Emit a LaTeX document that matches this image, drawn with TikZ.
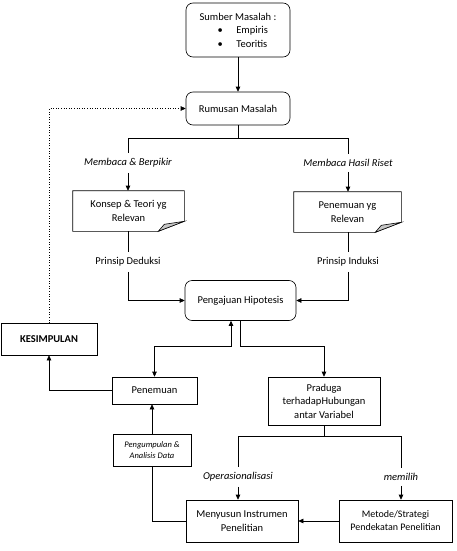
\documentclass[tikz,border=0pt]{standalone}
\usepackage{fontspec}
\setmainfont{Carlito}
\usetikzlibrary{arrows.meta}

\begin{document}
\begin{tikzpicture}[x=1pt, y=-1pt, line width=0.6pt,
	>={Triangle[length=5pt,width=4.5pt]},
	box/.style={draw, rectangle, align=center, inner sep=2pt,
	            font=\fontsize{10.5}{13.5}\selectfont},
	rbox/.style={box, rounded corners=7pt},
	docbox/.style={box, draw=none, append after command={\pgfextra{
		\draw (\tikzlastnode.north west) -- (\tikzlastnode.north east)
		   -- ([yshift=10pt]\tikzlastnode.south east)
		   -- ([xshift=-26pt]\tikzlastnode.south east)
		   -- (\tikzlastnode.south west) -- cycle;
		\draw[fill=gray!45] ([xshift=-26pt]\tikzlastnode.south east)
		   -- ([xshift=-20pt,yshift=7pt]\tikzlastnode.south east)
		   -- ([yshift=10pt]\tikzlastnode.south east) -- cycle;}}},
	lbl/.style={inner sep=5pt, font=\fontsize{10.5}{13.5}\selectfont}]

	\useasboundingbox (0,0) rectangle (457,551);

	% kotak-kotak
	\node[rbox, minimum width=104pt, minimum height=54pt, align=left] (sumber) at (238,30)
		{Sumber Masalah :\\\hspace*{18pt}\textbullet\hspace{13.5pt}Empiris\\\hspace*{18pt}\textbullet\hspace{13.5pt}Teoritis};
	\node[rbox, minimum width=104pt, minimum height=33pt] (rumusan) at (238,108.5) {Rumusan Masalah};
	\node[docbox, minimum width=111pt, minimum height=40pt] (konsep) at (128.5,211) {Konsep \& Teori yg\\Relevan};
	\node[docbox, minimum width=107pt, minimum height=40pt] (relevan) at (347.5,212) {Penemuan yg\\Relevan};
	\node[rbox, minimum width=111pt, minimum height=40pt] (pengajuan) at (240.5,300.5) {Pengajuan Hipotesis};
	\node[box, minimum width=96pt, minimum height=32pt, font=\fontsize{10.5}{13.5}\selectfont\bfseries] (kesimpulan) at (49,339) {KESIMPULAN};
	\node[box, minimum width=85pt, minimum height=27pt] (penemuan) at (154.5,390.5) {Penemuan};
	\node[box, minimum width=112pt, minimum height=48pt] (praduga) at (324,401) {Praduga\\terhadapHubungan\\antar Variabel};
	\node[box, minimum width=78pt, minimum height=32pt, font=\fontsize{8.5}{11}\selectfont\itshape] (kumpul) at (152,450) {Pengumpulan \&\\Analisis Data};
	\node[box, minimum width=112pt, minimum height=42pt] (menyusun) at (242,521) {Menyusun Instrumen\\Penelitian};
	\node[box, minimum width=113pt, minimum height=42pt, font=\fontsize{10}{13}\selectfont] (metode) at (395.5,521) {Metode/Strategi\\Pendekatan Penelitian};

	% label pada garis
	\node[lbl, font=\fontsize{10.5}{13.5}\selectfont\itshape] (baca1) at (128,163) {Membaca \& Berpikir};
	\node[lbl, font=\fontsize{10.5}{13.5}\selectfont\itshape] (baca2) at (348,163) {Membaca Hasil Riset};
	\node[lbl] (deduksi) at (128,262) {Prinsip Deduksi};
	\node[lbl] (induksi) at (348,262) {Prinsip Induksi};
	\node[lbl, font=\fontsize{10.5}{13.5}\selectfont\itshape] (operasi) at (238,477) {Operasionalisasi};
	\node[lbl, font=\fontsize{10.5}{13.5}\selectfont\itshape] (pilih) at (401,477) {memilih};

	% garis penghubung
	\draw[->] (sumber) -- (rumusan);
	\draw (rumusan.south) -- ++(0,12.5) -| (baca1.north);
	\draw (rumusan.south) -- ++(0,12.5) -| (baca2.north);
	\draw[->] (baca1.south) -- (baca1.south |- konsep.north);
	\draw[->] (baca2.south) -- (baca2.south |- relevan.north);
	\draw (konsep.south -| deduksi) -- (deduksi.north);
	\draw (relevan.south -| induksi) -- (induksi.north);
	\draw[->] (deduksi.south) |- (pengajuan.west);
	\draw[->] (induksi.south) |- (pengajuan.east);
	\draw[<->] ([xshift=-9.5pt]pengajuan.south) -- ++(0,25) -| (penemuan.north);
	\draw[->] (pengajuan.south) -- ++(0,25) -| (praduga.north);
	\draw[->] (penemuan.west) -| (kesimpulan.south);
	\draw[->, dotted] (kesimpulan.north) |- (rumusan.west);
	\draw[->] (kumpul.north) -- (kumpul.north |- penemuan.south);
	\draw (menyusun.west) -| (kumpul.south);
	\draw (praduga.south) -- ++(0,11) -| (operasi.north);
	\draw (praduga.south) -- ++(0,11) -| (pilih.north);
	\draw[->] (operasi.south) -- (operasi.south |- menyusun.north);
	\draw[->] (pilih.south) -- (pilih.south |- metode.north);
	\draw[->] (metode.west) -- (menyusun.east);
\end{tikzpicture}
\end{document}
